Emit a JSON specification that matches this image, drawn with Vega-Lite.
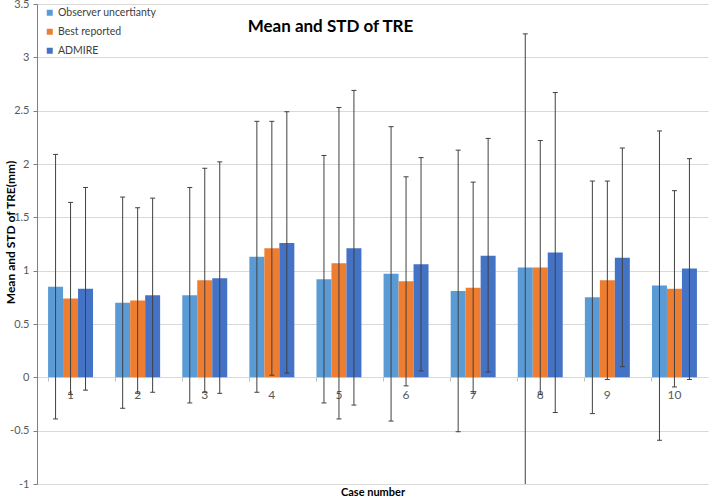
{
  "$schema": "https://vega.github.io/schema/vega-lite/v6.json",
  "width": 671,
  "height": 480,
  "autosize": {"type": "none"},
  "padding": {"left": 37, "top": 4, "right": 1, "bottom": 12},
  "background": "white",
  "config": {"font": "Lato", "view": {"stroke": null}},
  "title": {
    "text": "Mean and STD of TRE",
    "fontSize": 17,
    "fontWeight": "bold",
    "color": "#000000",
    "anchor": "middle",
    "dx": -42,
    "offset": -46,
    "baseline": "middle"
  },
  "data": {
    "values": [
      {"case": 1, "s": "Observer uncertianty", "mean": 0.85, "lo": -0.39, "hi": 2.09},
      {"case": 1, "s": "Best reported", "mean": 0.74, "lo": -0.16, "hi": 1.64},
      {"case": 1, "s": "ADMIRE", "mean": 0.83, "lo": -0.12, "hi": 1.78},
      {"case": 2, "s": "Observer uncertianty", "mean": 0.70, "lo": -0.29, "hi": 1.69},
      {"case": 2, "s": "Best reported", "mean": 0.72, "lo": -0.15, "hi": 1.59},
      {"case": 2, "s": "ADMIRE", "mean": 0.77, "lo": -0.14, "hi": 1.68},
      {"case": 3, "s": "Observer uncertianty", "mean": 0.77, "lo": -0.24, "hi": 1.78},
      {"case": 3, "s": "Best reported", "mean": 0.91, "lo": -0.14, "hi": 1.96},
      {"case": 3, "s": "ADMIRE", "mean": 0.93, "lo": -0.15, "hi": 2.02},
      {"case": 4, "s": "Observer uncertianty", "mean": 1.13, "lo": -0.14, "hi": 2.40},
      {"case": 4, "s": "Best reported", "mean": 1.21, "lo": 0.02, "hi": 2.40},
      {"case": 4, "s": "ADMIRE", "mean": 1.26, "lo": 0.04, "hi": 2.49},
      {"case": 5, "s": "Observer uncertianty", "mean": 0.92, "lo": -0.24, "hi": 2.08},
      {"case": 5, "s": "Best reported", "mean": 1.07, "lo": -0.39, "hi": 2.53},
      {"case": 5, "s": "ADMIRE", "mean": 1.21, "lo": -0.26, "hi": 2.69},
      {"case": 6, "s": "Observer uncertianty", "mean": 0.97, "lo": -0.41, "hi": 2.35},
      {"case": 6, "s": "Best reported", "mean": 0.90, "lo": -0.08, "hi": 1.88},
      {"case": 6, "s": "ADMIRE", "mean": 1.06, "lo": 0.06, "hi": 2.06},
      {"case": 7, "s": "Observer uncertianty", "mean": 0.81, "lo": -0.51, "hi": 2.13},
      {"case": 7, "s": "Best reported", "mean": 0.84, "lo": -0.15, "hi": 1.83},
      {"case": 7, "s": "ADMIRE", "mean": 1.14, "lo": 0.05, "hi": 2.24},
      {"case": 8, "s": "Observer uncertianty", "mean": 1.03, "lo": -1.16, "hi": 3.22},
      {"case": 8, "s": "Best reported", "mean": 1.03, "lo": -0.16, "hi": 2.22},
      {"case": 8, "s": "ADMIRE", "mean": 1.17, "lo": -0.33, "hi": 2.67},
      {"case": 9, "s": "Observer uncertianty", "mean": 0.75, "lo": -0.34, "hi": 1.84},
      {"case": 9, "s": "Best reported", "mean": 0.91, "lo": -0.02, "hi": 1.84},
      {"case": 9, "s": "ADMIRE", "mean": 1.12, "lo": 0.10, "hi": 2.15},
      {"case": 10, "s": "Observer uncertianty", "mean": 0.86, "lo": -0.59, "hi": 2.31},
      {"case": 10, "s": "Best reported", "mean": 0.83, "lo": -0.09, "hi": 1.75},
      {"case": 10, "s": "ADMIRE", "mean": 1.02, "lo": -0.02, "hi": 2.05}
    ]
  },
  "encoding": {
    "x": {
      "field": "case",
      "type": "ordinal",
      "scale": {"paddingInner": 0.33, "paddingOuter": 0.165},
      "axis": {
        "offset": -107,
        "bandPosition": 0,
        "labelAngle": 0,
        "labelPadding": 8,
        "labelFontSize": 12,
        "labelColor": "#595959",
        "ticks": true,
        "tickSize": 4,
        "tickColor": "#bfbfbf",
        "domainColor": "#d9d9d9",
        "grid": false,
        "title": "Case number",
        "titleFontSize": 11,
        "titleFontWeight": "bold",
        "titleColor": "#000000",
        "titleY": 115,
        "titleBaseline": "middle"
      }
    },
    "xOffset": {
      "field": "s",
      "type": "nominal",
      "scale": {"domain": ["Observer uncertianty", "Best reported", "ADMIRE"], "paddingInner": 0, "paddingOuter": 0}
    }
  },
  "layer": [
    {
      "mark": {"type": "bar"},
      "encoding": {
        "y": {
          "field": "mean",
          "type": "quantitative",
          "title": "Mean and STD of TRE(mm)",
          "scale": {"domain": [-1, 3.5], "nice": false, "zero": false},
          "axis": {
            "values": [-1, -0.5, 0, 0.5, 1, 1.5, 2, 2.5, 3, 3.5],
            "labelExpr": "datum.value + ''",
            "grid": true,
            "gridColor": "#d9d9d9",
            "domainColor": "#7f7f7f",
            "ticks": true,
            "tickSize": 4,
            "tickColor": "#7f7f7f",
            "labelFontSize": 11,
            "labelColor": "#595959",
            "labelPadding": 4,
            "titleFontSize": 12,
            "titleFontWeight": "bold",
            "titleColor": "#000000",
            "titleX": -27,
            "titleY": 228,
            "titleBaseline": "middle"
          }
        },
        "color": {
          "field": "s",
          "type": "nominal",
          "scale": {
            "domain": ["Observer uncertianty", "Best reported", "ADMIRE"],
            "range": ["#5B9BD5", "#ED7D31", "#4472C4"]
          },
          "legend": {
            "orient": "none",
            "legendX": 7.5,
            "legendY": 3.5,
            "title": null,
            "symbolType": "square",
            "symbolSize": 36,
            "symbolStrokeWidth": 0,
            "labelFontSize": 10.5,
            "labelColor": "#404040",
            "labelOffset": 3,
            "rowPadding": 8
          }
        }
      }
    },
    {
      "mark": {"type": "rule", "color": "#404040", "strokeWidth": 1, "clip": true},
      "encoding": {
        "y": {"field": "lo", "type": "quantitative", "title": "Mean and STD of TRE(mm)"},
        "y2": {"field": "hi"}
      }
    },
    {
      "mark": {"type": "tick", "color": "#404040", "thickness": 1, "size": 5, "opacity": 1, "clip": true},
      "encoding": {
        "y": {"field": "hi", "type": "quantitative", "title": "Mean and STD of TRE(mm)"}
      }
    },
    {
      "mark": {"type": "tick", "color": "#404040", "thickness": 1, "size": 5, "opacity": 1, "clip": true},
      "encoding": {
        "y": {"field": "lo", "type": "quantitative", "title": "Mean and STD of TRE(mm)"}
      }
    }
  ]
}
